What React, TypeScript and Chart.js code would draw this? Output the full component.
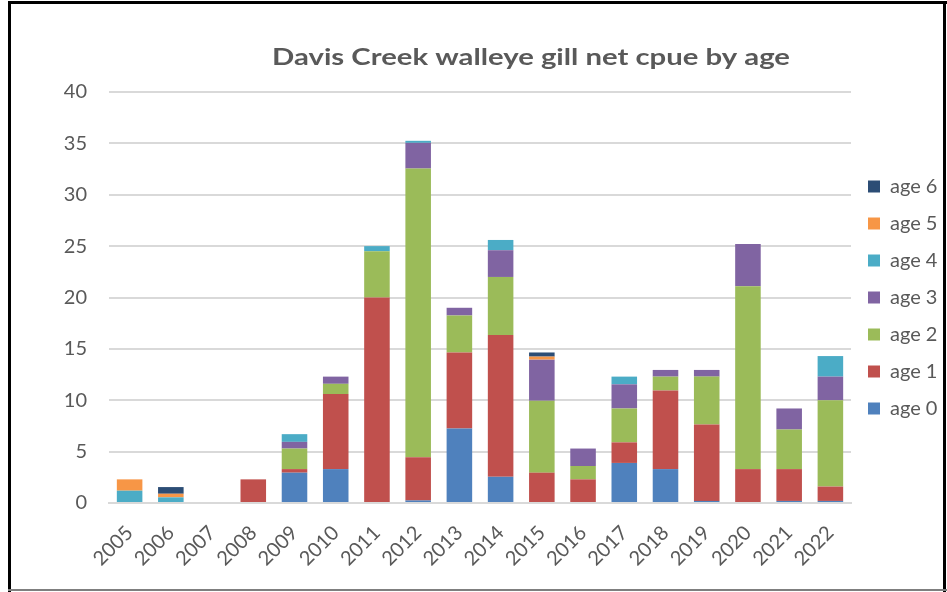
import React, { useEffect, useRef } from "react";
import { Chart, registerables } from "chart.js";

Chart.register(...registerables);

const years = ["2005","2006","2007","2008","2009","2010","2011","2012","2013","2014","2015","2016","2017","2018","2019","2020","2021","2022"];
const age0 = [0, 0, 0, 0, 2.95, 3.3, 0, 0.25, 7.25, 2.55, 0, 0, 3.9, 3.3, 0.2, 0, 0.2, 0.2];
const age1 = [0, 0, 0, 2.3, 0.35, 7.3, 20, 4.2, 7.4, 13.8, 2.95, 2.3, 2.0, 7.65, 7.45, 3.3, 3.1, 1.4];
const age2 = [0, 0, 0, 0, 2.0, 1.0, 4.5, 28.1, 3.6, 5.65, 7.0, 1.3, 3.3, 1.35, 4.65, 17.8, 3.85, 8.4];
const age3 = [0, 0, 0, 0, 0.65, 0.7, 0, 2.5, 0.75, 2.6, 4.0, 1.7, 2.35, 0.65, 0.65, 4.1, 2.05, 2.3];
const age4 = [1.2, 0.55, 0, 0, 0.75, 0, 0.5, 0.2, 0, 1.0, 0, 0, 0.75, 0, 0, 0, 0, 2.0];
const age5 = [1.1, 0.35, 0, 0, 0, 0, 0, 0, 0, 0, 0.3, 0, 0, 0, 0, 0, 0, 0];
const age6 = [0, 0.65, 0, 0, 0, 0, 0, 0, 0, 0, 0.4, 0, 0, 0, 0, 0, 0, 0];
const seriesNames = ["age 0", "age 1", "age 2", "age 3", "age 4", "age 5", "age 6"];
const seriesColors = ["#4F81BD", "#C0504D", "#9BBB59", "#8064A2", "#4BACC6", "#F79646", "#2C4D75"];
const titleText = "Davis Creek walleye gill net cpue by age";

const FONT = "Lato, 'Open Sans', sans-serif";
const GRAY = "#595959";

const titlePlugin = {
  id: "customTitle",
  afterInit(chart: any) {
    const lg = chart.legend;
    if (lg) {
      const orig = lg.fit.bind(lg);
      lg.fit = function () {
        orig();
        this.width = 96;
      };
    }
  },
  afterDraw(chart: any) {
    const ctx = chart.ctx;
    ctx.save();
    ctx.font = `bold 23px ${FONT}`;
    ctx.fillStyle = GRAY;
    ctx.textAlign = "center";
    ctx.textBaseline = "alphabetic";
    const w = ctx.measureText(titleText).width;
    const sx = 518 / w;
    ctx.translate(531, 64.5);
    ctx.scale(sx, 1);
    ctx.fillText(titleText, 0, 0);
    ctx.restore();
  },
};

export default function App() {
  const ref = useRef<HTMLCanvasElement | null>(null);
  useEffect(() => {
    if (!ref.current) return;
    const all = [age0, age1, age2, age3, age4, age5, age6];
    const chart = new Chart(ref.current, {
      type: "bar",
      data: {
        labels: years,
        datasets: all.map((d, i) => ({
          label: seriesNames[i],
          data: d,
          backgroundColor: seriesColors[i],
          borderWidth: 0,
          categoryPercentage: 1,
          barPercentage: 0.62,
        })),
      },
      options: {
        animation: false,
        responsive: false,
        maintainAspectRatio: false,
        layout: { padding: { top: 92, right: 0, left: 0, bottom: 0 } },
        plugins: {
          title: { display: false },
          tooltip: { enabled: false },
          legend: {
            position: "right",
            fullSize: false,
            reverse: true,
            labels: {
              boxWidth: 12,
              boxHeight: 12,
              padding: 17,
              color: GRAY,
              font: { family: FONT, size: 20 },
            },
          },
        },
        scales: {
          x: {
            stacked: true,
            grid: { display: false, drawTicks: false },
            border: { display: true, color: "#D9D9D9", width: 2 },
            afterFit: (scale: any) => {
              scale.height = 89;
            },
            ticks: {
              color: GRAY,
              font: { family: FONT, size: 20 },
              minRotation: 45,
              maxRotation: 45,
              padding: 18,
            },
          },
          y: {
            stacked: true,
            min: 0,
            max: 40,
            afterFit: (scale: any) => {
              scale.width = 109;
            },
            ticks: {
              stepSize: 5,
              color: GRAY,
              font: { family: FONT, size: 20 },
              padding: 22,
            },
            grid: { color: "#D9D9D9", lineWidth: 2, drawTicks: false },
            border: { display: false },
          },
        },
      },
      plugins: [titlePlugin],
    });
    return () => chart.destroy();
  }, []);
  return (
    <div style={{ position: "fixed", left: 0, top: 0, width: 947, height: 592, background: "#fff" }}>
      <canvas ref={ref} width={947} height={592} style={{ position: "absolute", left: 0, top: 0 }} />
      <div style={{ position: "absolute", left: 8, top: 1, width: 3, height: 591, background: "#000" }} />
      <div style={{ position: "absolute", left: 8, top: 1, width: 939, height: 3, background: "#000" }} />
      <div style={{ position: "absolute", left: 943, top: 1, width: 3, height: 591, background: "#000" }} />
      <div style={{ position: "absolute", left: 8, top: 589, width: 939, height: 2, background: "#7f7f7f" }} />
    </div>
  );
}
